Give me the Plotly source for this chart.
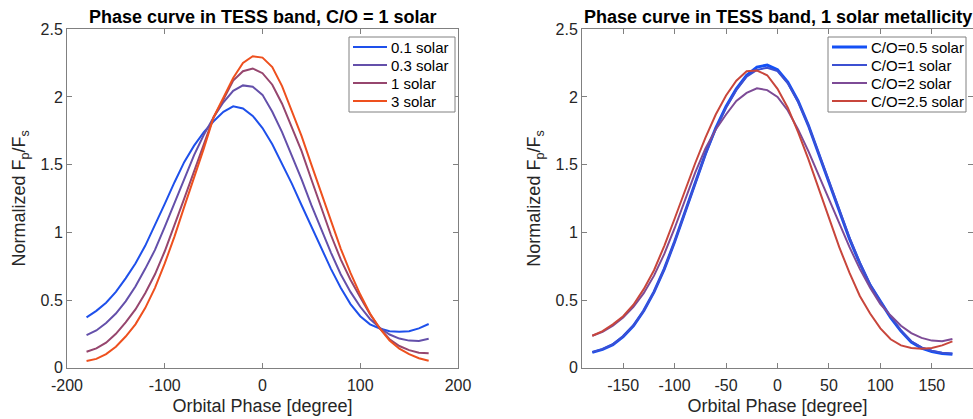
import plotly.graph_objects as go

# ---------------- data ----------------
phase = [-180, -170, -160, -150, -140, -130, -120, -110, -100, -90, -80, -70,
         -60, -50, -40, -30, -20, -10, 0, 10, 20, 30, 40, 50,
         60, 70, 80, 90, 100, 110, 120, 130, 140, 150, 160, 170]

# Left panel: metallicity series (C/O = 1 solar)
met_labels = ["0.1 solar", "0.3 solar", "1 solar", "3 solar"]
met_01 = [0.372, 0.42, 0.48, 0.56, 0.66, 0.77, 0.90, 1.05, 1.21, 1.37, 1.52, 1.64,
          1.74, 1.82, 1.89, 1.93, 1.915, 1.86, 1.77, 1.65, 1.51, 1.36, 1.20, 1.04,
          0.88, 0.73, 0.59, 0.47, 0.38, 0.32, 0.29, 0.27, 0.265, 0.27, 0.29, 0.323]
met_03 = [0.24, 0.275, 0.33, 0.40, 0.49, 0.60, 0.73, 0.87, 1.04, 1.22, 1.40, 1.57,
          1.72, 1.85, 1.96, 2.045, 2.085, 2.075, 2.015, 1.89, 1.74, 1.57, 1.39, 1.20,
          1.02, 0.85, 0.69, 0.56, 0.45, 0.36, 0.295, 0.245, 0.215, 0.20, 0.198, 0.214]
met_1 = [0.118, 0.143, 0.185, 0.25, 0.335, 0.43, 0.55, 0.69, 0.86, 1.05, 1.25, 1.45,
         1.65, 1.85, 1.98, 2.12, 2.19, 2.21, 2.175, 2.09, 1.95, 1.78, 1.60, 1.39,
         1.18, 0.98, 0.80, 0.65, 0.52, 0.395, 0.29, 0.21, 0.16, 0.13, 0.11, 0.106]
met_3 = [0.05, 0.065, 0.10, 0.155, 0.23, 0.32, 0.44, 0.59, 0.77, 0.97, 1.19, 1.40,
         1.62, 1.85, 2.00, 2.14, 2.25, 2.30, 2.29, 2.22, 2.08, 1.90, 1.71, 1.50,
         1.29, 1.08, 0.88, 0.70, 0.54, 0.40, 0.29, 0.20, 0.14, 0.10, 0.07, 0.052]
met_colors = ["rgb(30,80,235)", "rgb(100,80,170)", "rgb(150,70,110)", "rgb(238,80,30)"]

# Right panel: C/O series (1 solar metallicity)
co_labels = ["C/O=0.5 solar", "C/O=1 solar", "C/O=2 solar", "C/O=2.5 solar"]
co_05 = [0.113, 0.135, 0.17, 0.23, 0.31, 0.42, 0.56, 0.73, 0.93, 1.15, 1.37, 1.58,
         1.77, 1.93, 2.06, 2.16, 2.22, 2.235, 2.20, 2.11, 1.97, 1.79, 1.58, 1.37,
         1.16, 0.95, 0.77, 0.61, 0.49, 0.37, 0.27, 0.19, 0.145, 0.12, 0.105, 0.10]
co_1 = [0.115, 0.137, 0.172, 0.232, 0.312, 0.42, 0.56, 0.73, 0.93, 1.145, 1.365, 1.575,
        1.765, 1.92, 2.05, 2.15, 2.20, 2.215, 2.19, 2.10, 1.965, 1.79, 1.585, 1.375,
        1.165, 0.96, 0.775, 0.615, 0.49, 0.375, 0.275, 0.195, 0.15, 0.125, 0.11, 0.105]
co_2 = [0.236, 0.265, 0.31, 0.37, 0.45, 0.55, 0.68, 0.84, 1.03, 1.24, 1.44, 1.62,
        1.76, 1.87, 1.97, 2.03, 2.063, 2.05, 2.00, 1.90, 1.76, 1.60, 1.42, 1.24,
        1.06, 0.89, 0.73, 0.59, 0.47, 0.385, 0.31, 0.255, 0.22, 0.20, 0.195, 0.212]
co_25 = [0.236, 0.27, 0.32, 0.38, 0.465, 0.58, 0.72, 0.90, 1.10, 1.31, 1.51, 1.70,
         1.87, 2.01, 2.12, 2.19, 2.195, 2.16, 2.06, 1.92, 1.74, 1.54, 1.32, 1.10,
         0.89, 0.70, 0.53, 0.40, 0.29, 0.21, 0.165, 0.145, 0.14, 0.145, 0.165, 0.194]
co_colors = ["rgb(20,80,245)", "rgb(60,80,210)", "rgb(125,75,150)", "rgb(200,70,60)"]

left_title = "Phase curve in TESS band, C/O = 1 solar"
right_title = "Phase curve in TESS band, 1 solar metallicity"
x_title = "Orbital Phase [degree]"
y_title = "Normalized F<sub>p</sub>/F<sub>s</sub>"

y_ticks = [0, 0.5, 1, 1.5, 2, 2.5]
y_ticktext = ["0", "0.5", "1", "1.5", "2", "2.5"]
left_xticks = [-200, -100, 0, 100, 200]
left_xticktext = ["-200", "-100", "0", "100", "200"]
right_xticks = [-150, -100, -50, 0, 50, 100, 150]
right_xticktext = ["-150", "-100", "-50", "0", "50", "100", "150"]

# ---------------- figure ----------------
W, H = 973, 419
FONT = "Liberation Sans, Arial, Helvetica, sans-serif"
GRAY = "rgb(128,128,128)"
TXT = "rgb(38,38,38)"

fig = go.Figure()

for lab, ys, col in zip(met_labels, [met_01, met_03, met_1, met_3], met_colors):
    fig.add_trace(go.Scatter(x=phase, y=ys, mode="lines", name=lab,
                             line=dict(color=col, width=2),
                             xaxis="x", yaxis="y", showlegend=False))

co_widths = [3, 2, 2, 2]
for lab, ys, col, lw in zip(co_labels, [co_05, co_1, co_2, co_25], co_colors, co_widths):
    fig.add_trace(go.Scatter(x=phase, y=ys, mode="lines", name=lab,
                             line=dict(color=col, width=lw),
                             xaxis="x2", yaxis="y2", showlegend=False))

y0 = (H - 367.7) / H
y1 = (H - 29.2) / H
axis_common = dict(showline=True, linecolor=GRAY, linewidth=1, mirror="ticks",
                   ticks="inside", ticklen=5, tickcolor=GRAY, showgrid=False,
                   zeroline=False, automargin=False,
                   tickfont=dict(size=16, color=TXT),
                   title_font=dict(size=18, color=TXT))

shapes = []
annotations = []


def px(xp):
    return xp / W


def py(yp):
    return (H - yp) / H


# titles
for text, cx in [(left_title, 262.5), (right_title, 777.5)]:
    annotations.append(dict(text="<b>" + text + "</b>", x=px(cx), y=py(17),
                            xref="paper", yref="paper", showarrow=False,
                            xanchor="center", yanchor="middle",
                            font=dict(size=18, color="black")))

# hand-built legends (MATLAB style: compact boxes)
legend_specs = [
    (349, 455, 353, 387, 390, met_labels, met_colors, [2, 2, 2, 2]),
    (828, 966, 832, 867, 870, co_labels, co_colors, co_widths),
]
rows = [47, 65, 83, 101]
for bx0, bx1, lx0, lx1, tx, labels, colors, widths in legend_specs:
    shapes.append(dict(type="rect", xref="paper", yref="paper",
                       x0=px(bx0), x1=px(bx1), y0=py(112), y1=py(37),
                       line=dict(color=GRAY, width=1), fillcolor="white", layer="above"))
    for r, lab, col, lw in zip(rows, labels, colors, widths):
        shapes.append(dict(type="line", xref="paper", yref="paper",
                           x0=px(lx0), x1=px(lx1), y0=py(r), y1=py(r),
                           line=dict(color=col, width=lw), layer="above"))
        annotations.append(dict(text=lab, x=px(tx), y=py(r), xref="paper", yref="paper",
                                showarrow=False, xanchor="left", yanchor="middle",
                                font=dict(size=15, color="black"), borderpad=0))

fig.update_layout(
    template="none",
    width=W, height=H,
    margin=dict(l=0, r=0, t=0, b=0),
    paper_bgcolor="white", plot_bgcolor="white",
    font=dict(family=FONT, color=TXT),
    showlegend=False,
    xaxis=dict(domain=[67 / W, 458 / W], range=[-200, 200], tickvals=left_xticks,
               ticktext=left_xticktext, anchor="y", ticklabelstandoff=3,
               title=dict(text=x_title, standoff=6), **axis_common),
    yaxis=dict(domain=[y0, y1], range=[0, 2.5], tickvals=y_ticks, ticktext=y_ticktext,
               anchor="x", title=dict(text=y_title, standoff=10), **axis_common),
    xaxis2=dict(domain=[582 / W, 1.0], range=[-190, 190], tickvals=right_xticks,
                ticktext=right_xticktext, anchor="y2", ticklabelstandoff=3,
                title=dict(text=x_title, standoff=6), **axis_common),
    yaxis2=dict(domain=[y0, y1], range=[0, 2.5], tickvals=y_ticks, ticktext=y_ticktext,
                anchor="x2", title=dict(text=y_title, standoff=10), **axis_common),
    shapes=shapes,
    annotations=annotations,
)

fig.write_html("out.html")
